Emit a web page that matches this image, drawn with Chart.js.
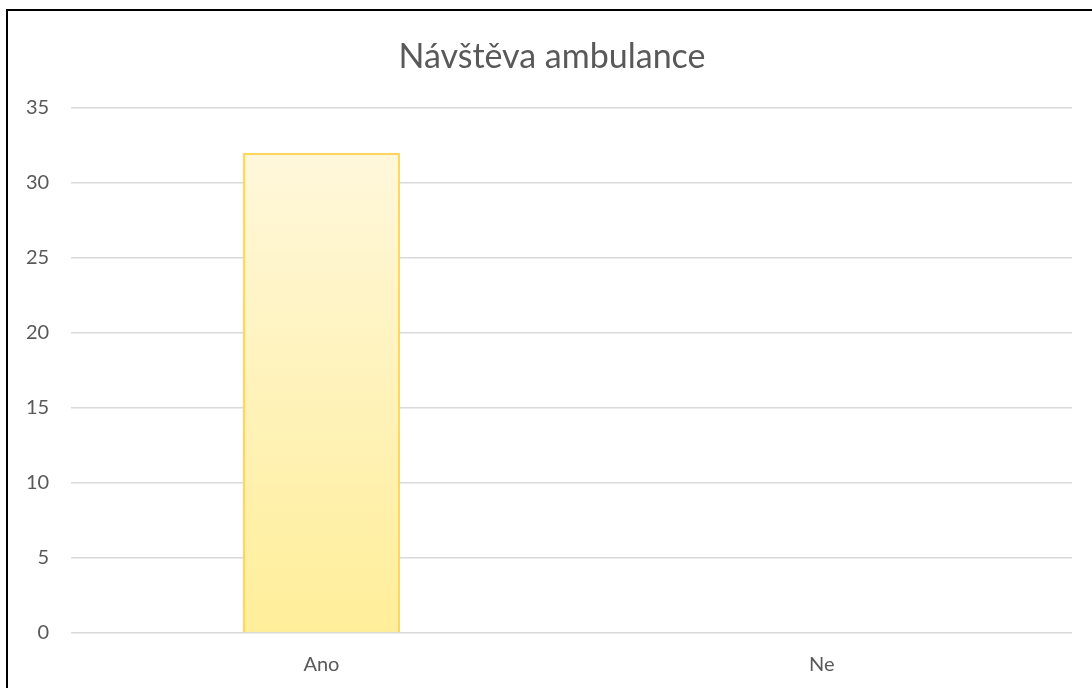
<!DOCTYPE html>
<html lang="cs">
<head>
    <meta charset="UTF-8">
    <title>Návštěva ambulance</title>
    <script src="https://cdn.jsdelivr.net/npm/chart.js"></script>
    <style>
        html, body {
            margin: 0;
            padding: 0;
            background: #ffffff;
            overflow: hidden;
        }
        .frame {
            position: absolute;
            left: 6px;
            top: 9px;
            width: 1086px;
            height: 679px;
            border-left: 2px solid #000;
            border-top: 2px solid #000;
            box-sizing: border-box;
        }
        .chart-box {
            position: absolute;
            left: 0;
            top: 0;
            width: 1092px;
            height: 688px;
        }
    </style>
</head>
<body>
    <div class="frame"></div>
    <div class="chart-box">
        <canvas id="barChart" width="1092" height="688"></canvas>
    </div>

    <script>
        // Data
        const categories = ['Ano', 'Ne'];
        const visits = [32, 0];
        const yTicks = [0, 5, 10, 15, 20, 25, 30, 35];

        const textColor = '#595959';
        const fontFamily = 'Lato, "Open Sans", sans-serif';

        // Gradient fill running from the top of each bar down to zero
        function barFill(context) {
            const chart = context.chart;
            if (!chart.chartArea) return '#FFF2B3';
            const y = chart.scales.y;
            const top = y.getPixelForValue(visits[context.dataIndex]);
            const bottom = y.getPixelForValue(0);
            if (bottom - top < 1) return '#FFF2B3';
            const g = chart.ctx.createLinearGradient(0, top, 0, bottom);
            g.addColorStop(0, '#FFF7DB');
            g.addColorStop(1, '#FFEE99');
            return g;
        }

        // Centre the title over the framed area rather than the padded canvas
        const titleShift = {
            id: 'titleShift',
            afterLayout(chart) {
                if (chart.titleBlock) chart.titleBlock.left = 32;
            }
        };

        new Chart(document.getElementById('barChart'), {
            type: 'bar',
            data: {
                labels: categories,
                datasets: [{
                    label: 'Návštěva ambulance',
                    data: visits,
                    backgroundColor: barFill,
                    borderColor: '#FFD75E',
                    borderWidth: 2.5,
                    borderSkipped: 'bottom',
                    categoryPercentage: 1,
                    barPercentage: 0.315
                }]
            },
            plugins: [titleShift],
            options: {
                responsive: false,
                animation: false,
                layout: {
                    padding: { left: 4, right: 20, top: 37, bottom: -9 }
                },
                plugins: {
                    legend: { display: false },
                    tooltip: { enabled: false },
                    title: {
                        display: true,
                        text: 'Návštěva ambulance',
                        color: textColor,
                        font: { family: fontFamily, size: 34, weight: 'normal' },
                        padding: { top: 0, bottom: 30 }
                    }
                },
                scales: {
                    x: {
                        grid: { display: false, drawTicks: false },
                        border: { display: false },
                        ticks: {
                            color: textColor,
                            font: { family: fontFamily, size: 20 },
                            padding: 20
                        }
                    },
                    y: {
                        min: yTicks[0],
                        max: yTicks[yTicks.length - 1],
                        afterBuildTicks: axis => {
                            axis.ticks = yTicks.map(v => ({ value: v }));
                        },
                        grid: { color: '#D9D9D9', lineWidth: 1.5, drawTicks: false },
                        border: { display: false },
                        ticks: {
                            color: textColor,
                            font: { family: fontFamily, size: 20 },
                            padding: 22
                        }
                    }
                }
            }
        });
    </script>
</body>
</html>
